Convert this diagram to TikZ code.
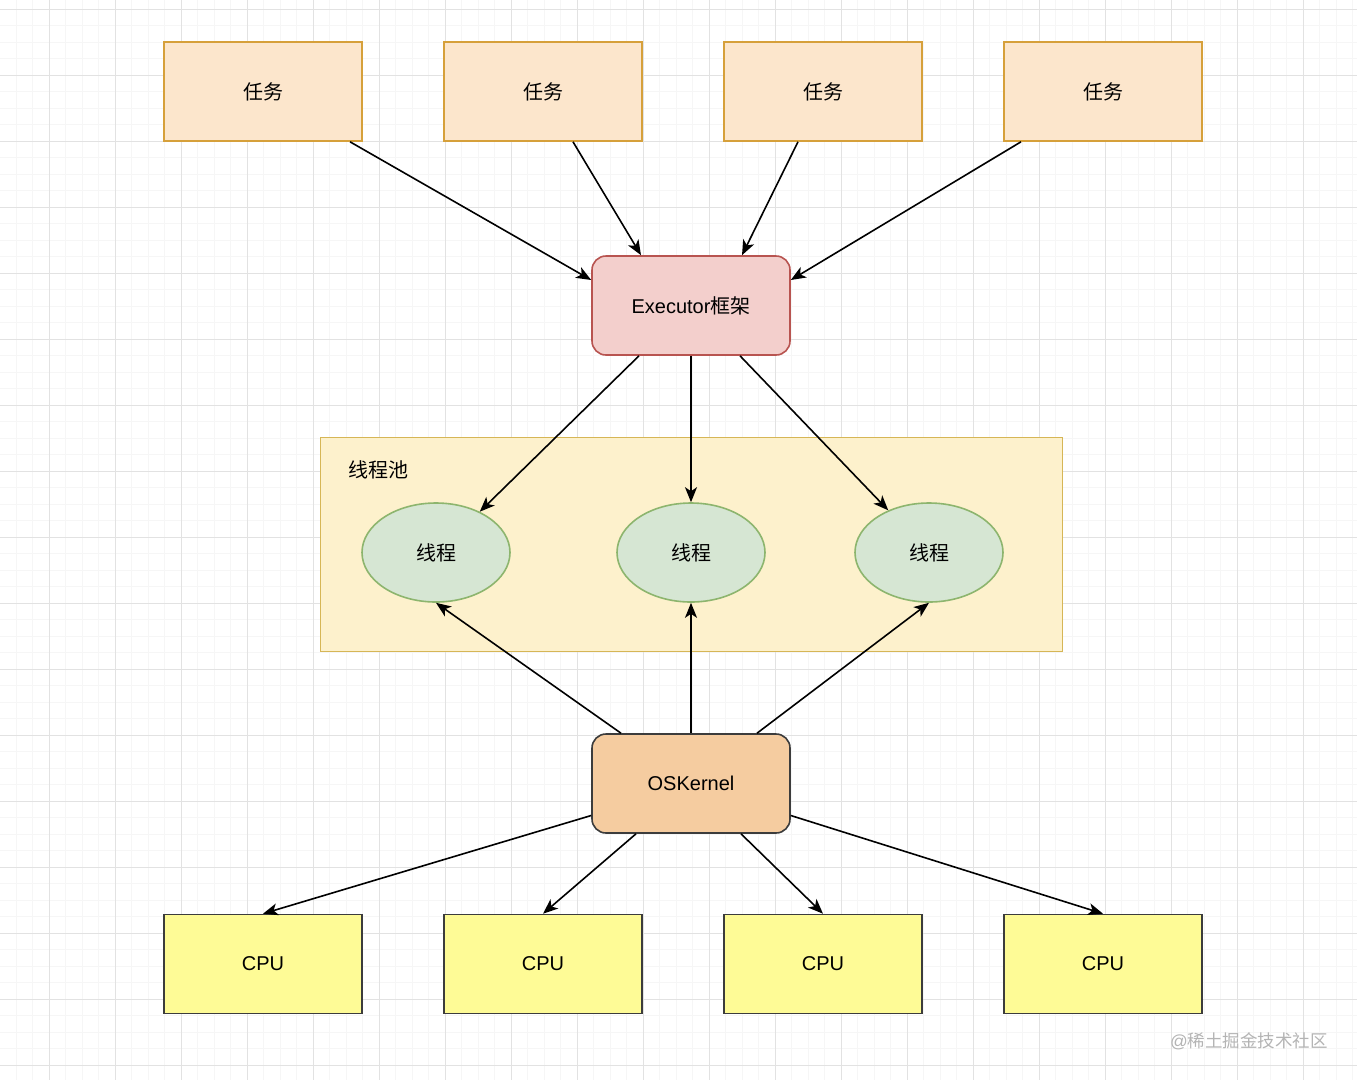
\documentclass[tikz,border=0pt]{standalone}
\usepackage{fontspec}
\setmainfont{Liberation Sans}
\newfontfamily\cjk{Noto Sans CJK SC}
\usetikzlibrary{shapes.geometric,arrows.meta,calc}
\definecolor{taskfill}{HTML}{FCE6CC}
\definecolor{taskdraw}{HTML}{D6A03A}
\definecolor{exfill}{HTML}{F3CFCC}
\definecolor{exdraw}{HTML}{B85450}
\definecolor{poolfill}{HTML}{FDF1CC}
\definecolor{pooldraw}{HTML}{D6B656}
\definecolor{thfill}{HTML}{D6E6D3}
\definecolor{thdraw}{HTML}{8DB56E}
\definecolor{osfill}{HTML}{F5CCA0}
\definecolor{darkdraw}{HTML}{3C3C3C}
\definecolor{cpufill}{HTML}{FEFB96}
\definecolor{gridmajor}{HTML}{E2E2E2}
\definecolor{gridminor}{HTML}{F6F6F6}
\definecolor{wmark}{HTML}{B4B4B4}
\tikzset{
  base/.style={font=\fontsize{20}{22}\selectfont, inner sep=0pt, line width=1.6pt},
  taskbox/.style={base, rectangle, draw=taskdraw, fill=taskfill, minimum width=198pt, minimum height=99pt},
  exbox/.style={base, rectangle, rounded corners=14pt, draw=exdraw, fill=exfill, minimum width=198pt, minimum height=99pt},
  osbox/.style={base, rectangle, rounded corners=14pt, draw=darkdraw, fill=osfill, minimum width=198pt, minimum height=99pt},
  cpubox/.style={base, rectangle, draw=darkdraw, fill=cpufill, minimum width=198pt, minimum height=99pt},
  poolbox/.style={rectangle, draw=pooldraw, fill=poolfill, line width=1pt, minimum width=742pt, minimum height=214pt, inner sep=0pt},
  thread/.style={base, ellipse, draw=thdraw, fill=thfill, minimum width=148pt, minimum height=99pt},
  conn/.style={line width=1.6pt, -{Stealth[length=15pt,width=12pt,inset=4pt]}},
  lbl/.style={font=\fontsize{20}{22}\selectfont, inner sep=0pt},
}
\begin{document}
\begin{tikzpicture}[x=1pt,y=-1pt]
\useasboundingbox (0,0) rectangle (1357,1080);
\fill[white] (0,0) rectangle (1357,1080);
% grid
\foreach \k in {1,...,82} {\draw[gridminor, line width=0.8pt] ({-0.5+16.5*\k},0) -- ({-0.5+16.5*\k},1080);}
\foreach \k in {0,...,65} {\draw[gridminor, line width=0.8pt] (0,{9+16.5*\k}) -- (1357,{9+16.5*\k});}
\foreach \k in {0,...,19} {\draw[gridmajor, line width=1pt] ({49+66*\k},0) -- ({49+66*\k},1080);}
\foreach \k in {0,...,16} {\draw[gridmajor, line width=1pt] (0,{9+66*\k}) -- (1357,{9+66*\k});}

% thread pool
\node[poolbox] (pool) at (691,544) {};
\node[lbl, anchor=west] (poollbl) at (348,470) {\cjk 线程池};

% tasks
\node[taskbox] (t1) at (263,91.5) {\cjk 任务};
\node[taskbox] (t2) at (543,91.5) {\cjk 任务};
\node[taskbox] (t3) at (823,91.5) {\cjk 任务};
\node[taskbox] (t4) at (1103,91.5) {\cjk 任务};

% executor
\node[exbox] (ex) at (691,305.5) {Executor{\cjk 框架}};

% threads
\node[thread] (th1) at (436,552.5) {\cjk 线程};
\node[thread] (th2) at (691,552.5) {\cjk 线程};
\node[thread] (th3) at (929,552.5) {\cjk 线程};

% os kernel
\node[osbox] (os) at (691,783.5) {OSKernel};

% cpus
\node[cpubox] (c1) at (263,964) {CPU};
\node[cpubox] (c2) at (543,964) {CPU};
\node[cpubox] (c3) at (823,964) {CPU};
\node[cpubox] (c4) at (1103,964) {CPU};

% connectors
\draw[conn] ([xshift=87pt]t1.south) -- ([yshift=25.5pt]ex.west);
\draw[conn] ([xshift=30pt]t2.south) -- ([xshift=-50pt]ex.north);
\draw[conn] ([xshift=-25pt]t3.south) -- ([xshift=51pt]ex.north);
\draw[conn] ([xshift=-82pt]t4.south) -- ([yshift=25.5pt]ex.east);

\draw[conn] ([xshift=-52pt]ex.south) -- (th1.43);
\draw[conn] (ex.south) -- (th2.north);
\draw[conn] ([xshift=49pt]ex.south) -- (th3.134);

\draw[conn] ([xshift=-70pt]os.north) -- (th1.south);
\draw[conn] (os.north) -- (th2.south);
\draw[conn] ([xshift=66pt]os.north) -- (th3.south);

\draw[conn] ([yshift=-32pt]os.west) -- (c1.north);
\draw[conn] ([xshift=-55pt]os.south) -- (c2.north);
\draw[conn] ([xshift=50pt]os.south) -- (c3.north);
\draw[conn] ([yshift=-32pt]os.east) -- (c4.north);

% watermark
\node[font=\fontsize{17.5}{20}\selectfont, text=wmark, inner sep=0pt, anchor=east] (wm) at (1328,1041) {@{\cjk 稀土掘金技术社区}};
\end{tikzpicture}
\end{document}
